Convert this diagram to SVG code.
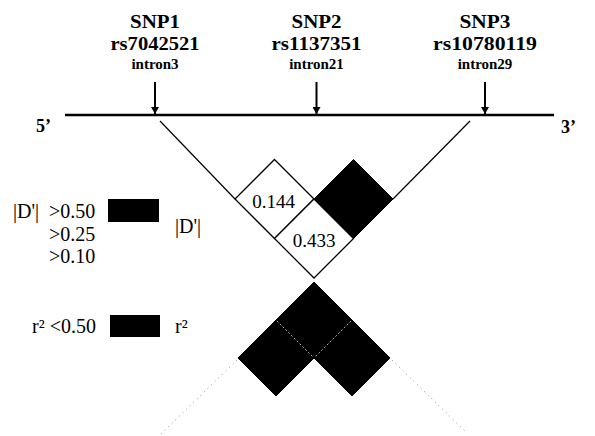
<svg xmlns="http://www.w3.org/2000/svg" width="595" height="436" viewBox="0 0 595 436">
  <style>
    .lbl { font-family: "Liberation Serif", "Times New Roman", serif; fill: #000; }
    .snp { font-size: 19.5px; font-weight: bold; text-anchor: middle; }
    .intron { font-size: 15px; font-weight: bold; text-anchor: middle; }
    .end { font-size: 18px; font-weight: bold; }
    .leg { font-size: 20px; }
    .val { font-size: 19px; text-anchor: middle; }
    .gene { stroke: #000; stroke-width: 2.5; fill: none; }
    .pin { stroke: #000; stroke-width: 2; fill: none; marker-end: url(#tip); }
    .edge { stroke: #000; stroke-width: 1.2; fill: none; }
    .dots { stroke: #8a8a8a; stroke-width: 1; stroke-dasharray: 1 4; fill: none; }
    .seam { stroke: #d0d0d0; stroke-width: 0.8; stroke-dasharray: 2 2; fill: none; }
    .open { fill: #fff; stroke: #000; stroke-width: 1.3; }
    .solid { fill: #000; stroke: #000; stroke-width: 1; }
  </style>
  <defs>
    <marker id="tip" markerWidth="7" markerHeight="8" refX="7" refY="4" orient="auto" markerUnits="userSpaceOnUse">
      <path d="M0,0 L7,4 L0,8 Z" fill="#000"/>
    </marker>
  </defs>

  <!-- gene backbone -->
  <g id="gene">
    <line class="gene" x1="65" y1="115" x2="554" y2="115"/>
    <text class="lbl end" x="36" y="132">5’</text>
    <text class="lbl end" x="561" y="133">3’</text>
  </g>

  <!-- SNP markers -->
  <g id="snp1">
    <text class="lbl snp" x="155" y="28" textLength="50" lengthAdjust="spacingAndGlyphs">SNP1</text>
    <text class="lbl snp" x="155" y="49.6" textLength="89" lengthAdjust="spacingAndGlyphs">rs7042521</text>
    <text class="lbl intron" x="155" y="69">intron3</text>
  </g>
  <g id="snp2">
    <text class="lbl snp" x="316.5" y="28" textLength="50" lengthAdjust="spacingAndGlyphs">SNP2</text>
    <text class="lbl snp" x="316.5" y="49.6" textLength="90" lengthAdjust="spacingAndGlyphs">rs1137351</text>
    <text class="lbl intron" x="316.5" y="69">intron21</text>
  </g>
  <g id="snp3">
    <text class="lbl snp" x="485" y="28" textLength="51" lengthAdjust="spacingAndGlyphs">SNP3</text>
    <text class="lbl snp" x="485" y="49.6" textLength="104" lengthAdjust="spacingAndGlyphs">rs10780119</text>
    <text class="lbl intron" x="485" y="69">intron29</text>
  </g>

  <!-- connectors: SNP pointers and LD triangle outlines -->
  <g id="connectors">
    <line class="pin" x1="155" y1="82" x2="155" y2="114"/>
    <line class="pin" x1="316.5" y1="82" x2="316.5" y2="114"/>
    <line class="pin" x1="485" y1="82" x2="485" y2="114"/>
    <line class="edge" x1="160" y1="121" x2="235" y2="199"/>
    <line class="edge" x1="470" y1="121" x2="393" y2="199"/>
    <line class="dots" x1="237" y1="360" x2="161" y2="434"/>
    <line class="dots" x1="392" y1="360" x2="467" y2="433"/>
  </g>

  <!-- |D'| block -->
  <g id="d-1-2">
    <polygon class="open" points="274.5,159.5 314,199 274.5,238.5 235,199"/>
    <text class="lbl val" x="273.5" y="208">0.144</text>
  </g>
  <g id="d-2-3">
    <polygon class="solid" points="353.5,159.5 393,199 353.5,238.5 314,199"/>
  </g>
  <g id="d-1-3">
    <polygon class="open" points="314,199 353.5,238.5 314,278 274.5,238.5"/>
    <text class="lbl val" x="314" y="247">0.433</text>
  </g>

  <!-- r2 block -->
  <g id="r-top">
    <polygon class="solid" points="314,282 352,320 314,358 276,320"/>
  </g>
  <g id="r-left">
    <polygon class="solid" points="276,320 314,358 276,396 238,358"/>
  </g>
  <g id="r-right">
    <polygon class="solid" points="352,320 390,358 352,396 314,358"/>
  </g>
  <g id="r-seams">
    <line class="seam" x1="277" y1="321" x2="313" y2="357"/>
    <line class="seam" x1="351" y1="321" x2="315" y2="357"/>
  </g>

  <!-- legend -->
  <g id="legend-d">
    <text class="lbl leg" x="13" y="218">|D'|</text>
    <text class="lbl leg" x="49" y="218">&gt;0.50</text>
    <text class="lbl leg" x="49" y="241">&gt;0.25</text>
    <text class="lbl leg" x="49" y="263">&gt;0.10</text>
    <rect x="108" y="199" width="51" height="23" fill="#000"/>
    <text class="lbl leg" x="175" y="233">|D'|</text>
  </g>
  <g id="legend-r">
    <text class="lbl leg" x="32" y="333">r² &lt;0.50</text>
    <rect x="110" y="315" width="50" height="22" fill="#000"/>
    <text class="lbl leg" x="175" y="333">r²</text>
  </g>
</svg>
